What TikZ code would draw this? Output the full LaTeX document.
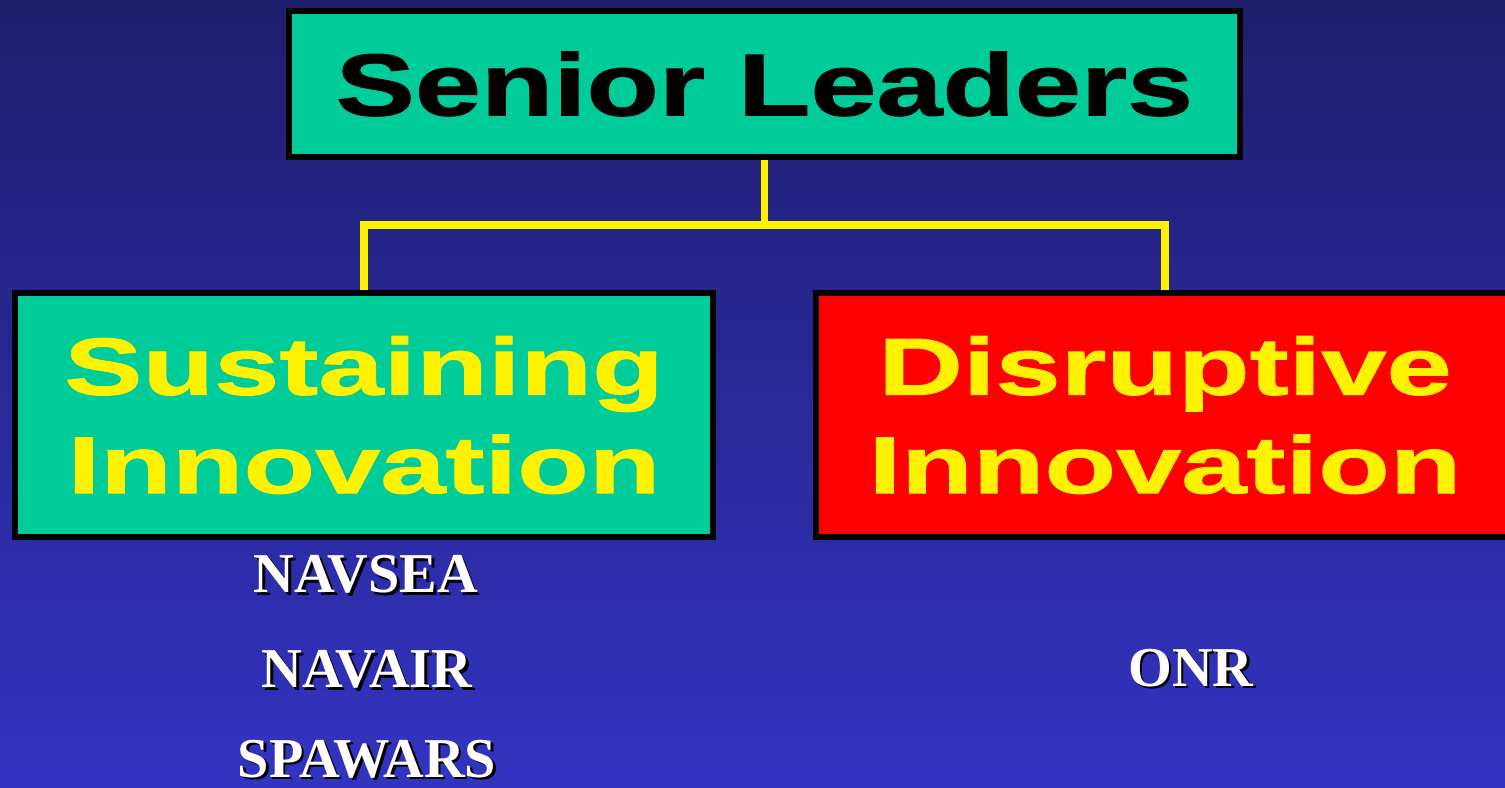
\documentclass[tikz,border=0pt]{standalone}
\usepackage{fontspec}
\setmainfont{Liberation Serif}
\newfontfamily\topfont[FakeStretch=1.35, FakeBold=1.2]{Liberation Sans Bold}
\newfontfamily\headfont[FakeStretch=1.45, FakeBold=1.2]{Liberation Sans Bold}
\usetikzlibrary{positioning}

\definecolor{bgtop}{RGB}{30,30,110}
\definecolor{bgbottom}{RGB}{51,51,194}
\definecolor{boxgreen}{RGB}{0,204,153}

% white label with a small dark drop shadow
\newcommand\dropshadow[1]{%
  \makebox[0pt][l]{\hspace{0.7pt}\raisebox{-0.7pt}{\textcolor{black}{#1}}}#1}

\begin{document}
\begin{tikzpicture}[
  x=0.01cm, y=-0.01cm,
  box/.style={rectangle, draw=black, line width=1.7pt, inner sep=0pt,
              minimum width=6.98cm, minimum height=2.44cm, align=center,
              text=yellow, font=\headfont\fontsize{23}{28}\selectfont},
  link/.style={draw=yellow, line width=2pt},
  unit/.style={anchor=base, text=white, inner sep=0pt,
               font=\bfseries\fontsize{16}{19}\selectfont},
]
\useasboundingbox (0,0) rectangle (1505,788);
\shade[top color=bgtop, bottom color=bgbottom] (0,0) rectangle (1505,788);
\clip (0,0) rectangle (1505,788);

% ---- boxes ----
\node[box, fill=boxgreen, text=black, minimum width=9.51cm, minimum height=1.46cm,
      font=\topfont\fontsize{25}{30}\selectfont]
      (senior) at (764.5,84) {Senior Leaders};
\node[box, fill=boxgreen] (sus) at (364,415) {Sustaining\\Innovation};
\node[box, fill=red]      (dis) at (1165,415) {Disruptive\\Innovation};

% ---- tree lines ----
\coordinate (bus) at (764.5,225);
\draw[link] (senior.south) -- (bus) -| (sus.north);
\draw[link] (bus) -| (dis.north);

% ---- commands under each box ----
\node[unit] (navsea)  at (366,593) {\dropshadow{NAVSEA}};
\node[unit] (navair)  at (367,688) {\dropshadow{NAVAIR}};
\node[unit] (spawars) at (367,777) {\dropshadow{SPAWARS}};
\node[unit] (onr)     at (1191,686) {\dropshadow{ONR}};

\end{tikzpicture}
\end{document}
